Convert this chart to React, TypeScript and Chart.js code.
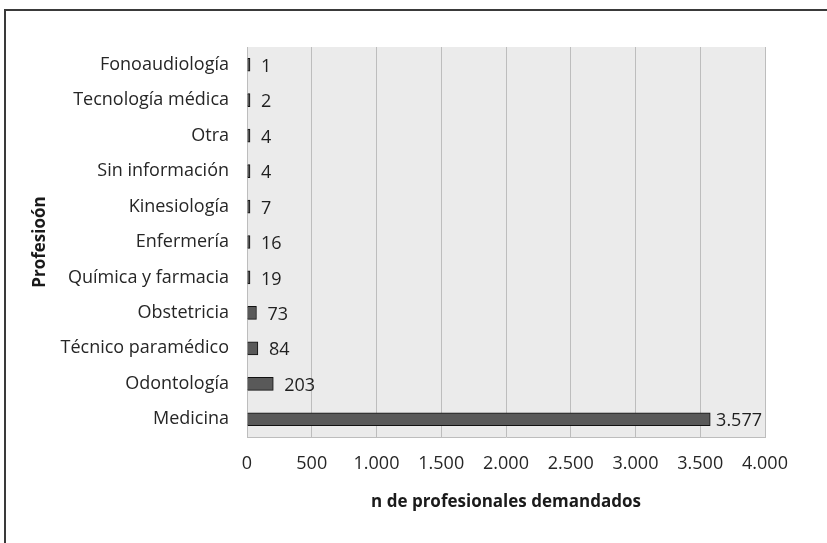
import React, { useEffect, useRef } from "react";
import { Chart, registerables } from "chart.js";

Chart.register(...registerables);

const categories = [
  "Fonoaudiología",
  "Tecnología médica",
  "Otra",
  "Sin información",
  "Kinesiología",
  "Enfermería",
  "Química y farmacia",
  "Obstetricia",
  "Técnico paramédico",
  "Odontología",
  "Medicina",
];
const values = [1, 2, 4, 4, 7, 16, 19, 73, 84, 203, 3577];
const xTitle = "n de profesionales demandados";
const yTitle = "Profesioón";
const xMax = 4000;
const xStep = 500;

const FONT = "'Open Sans', Lato, sans-serif";
const FS = 18;
const TS = 17;

const fmt = (v: number) => {
  const s = Math.round(v).toString();
  return s.replace(/\B(?=(\d{3})+(?!\d))/g, ".");
};

const bgPlugin = {
  id: "plotBg",
  beforeDraw(chart: any) {
    const { ctx, chartArea } = chart;
    ctx.save();
    ctx.fillStyle = "#ebebeb";
    ctx.fillRect(chartArea.left, chartArea.top, chartArea.right - chartArea.left, chartArea.bottom - chartArea.top);
    ctx.restore();
  },
};

const labelPlugin = {
  id: "barLabels",
  afterDatasetsDraw(chart: any) {
    const { ctx, chartArea } = chart;
    const meta = chart.getDatasetMeta(0);
    ctx.save();
    ctx.font = `${FS}px ${FONT}`;
    ctx.fillStyle = "#1f1f1f";
    ctx.textBaseline = "middle";
    ctx.textAlign = "left";
    meta.data.forEach((bar: any, i: number) => {
      const txt = fmt(values[i]);
      const w = ctx.measureText(txt).width;
      let x = bar.x + 11;
      if (x + w > chartArea.right - 3) x = chartArea.right - 3 - w;
      ctx.fillText(txt, x, bar.y + 2);
    });
    ctx.restore();
  },
};

export default function App() {
  const ref = useRef<HTMLCanvasElement | null>(null);
  useEffect(() => {
    if (!ref.current) return;
    const chart = new Chart(ref.current, {
      type: "bar",
      data: {
        labels: categories,
        datasets: [
          {
            data: values,
            backgroundColor: "#595959",
            borderColor: "#111111",
            borderWidth: 1,
            barThickness: 13,
            minBarLength: 3,
          },
        ],
      },
      options: {
        indexAxis: "y",
        animation: false,
        responsive: false,
        maintainAspectRatio: false,
        layout: { padding: { left: 26, top: 47, right: 62, bottom: 27 } },
        plugins: { legend: { display: false }, tooltip: { enabled: false } },
        scales: {
          x: {
            min: 0,
            max: xMax,
            ticks: {
              stepSize: xStep,
              padding: 16,
              color: "#262626",
              font: { family: FONT, size: FS },
              callback: (v: any) => fmt(Number(v)),
            },
            grid: { color: "#bdbdbd", lineWidth: 1, drawTicks: false },
            border: { display: true, color: "#bdbdbd", width: 1 },
            title: {
              display: true,
              text: xTitle,
              color: "#1a1a1a",
              font: { family: FONT, size: TS, weight: "bold" },
            },
            afterFit: (s: any) => {
              s.height = 79;
            },
          },
          y: {
            ticks: {
              padding: 18,
              color: "#262626",
              font: { family: FONT, size: FS },
            },
            grid: { display: false, drawTicks: false },
            border: { display: true, color: "#bdbdbd", width: 1 },
            title: {
              display: true,
              text: yTitle,
              color: "#1a1a1a",
              font: { family: FONT, size: TS, weight: "bold" },
            },
            afterFit: (s: any) => {
              s.width = 221;
            },
          },
        },
      },
      plugins: [bgPlugin, labelPlugin],
    });
    return () => chart.destroy();
  }, []);

  return (
    <div style={{ position: "absolute", left: 0, top: 0, width: 827, height: 543, background: "#fff", overflow: "hidden" }}>
      <canvas ref={ref} width={827} height={543} style={{ position: "absolute", left: 0, top: 0, width: 827, height: 543 }} />
      <div
        style={{
          position: "absolute",
          left: 4,
          top: 9,
          width: 900,
          height: 600,
          borderLeft: "2px solid #3a3a3a",
          borderTop: "2px solid #3a3a3a",
          pointerEvents: "none",
        }}
      />
    </div>
  );
}
